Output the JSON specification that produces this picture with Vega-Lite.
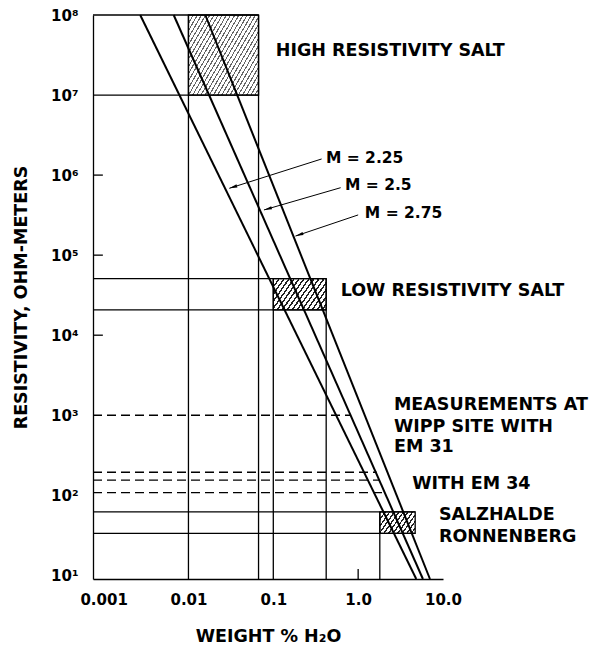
{
  "$schema": "https://vega.github.io/schema/vega-lite/v6.json",
  "width": 350,
  "height": 564,
  "autosize": {"type": "none"},
  "padding": {"left": 93, "top": 15, "right": 158, "bottom": 70},
  "background": "white",
  "config": {
    "view": {"stroke": null},
    "axis": {"grid": false, "ticks": false, "domainColor": "black", "domainWidth": 1.3, "labelColor": "black", "titleColor": "black", "labelFont": "DejaVu Sans", "labelFontWeight": "bold", "labelFontSize": 15, "titleFont": "DejaVu Sans", "titleFontWeight": "bold", "titleFontSize": 17.5}
  },
  "encoding": {
    "x": {"field": "x", "type": "quantitative", "scale": {"type": "log", "domain": [0.00075, 10], "nice": false},
      "axis": {"title": "WEIGHT % H₂O", "values": [0.001, 0.01, 0.1, 1, 10], "labelFlush": false, "labelOverlap": false, "labelPadding": 13, "titlePadding": 20,
        "labelExpr": "datum.value >= 1 ? format(datum.value, '.1f') : format(datum.value, '~g')"}},
    "y": {"field": "y", "type": "quantitative", "scale": {"type": "log", "domain": [9, 100000000], "nice": false},
      "axis": {"title": "RESISTIVITY, OHM-METERS", "values": [10, 100, 1000, 10000, 100000, 1000000, 10000000, 100000000], "labelFlush": false, "labelOverlap": false, "labelPadding": 15, "titlePadding": 20,
        "labelExpr": "'10' + ['⁰','¹','²','³','⁴','⁵','⁶','⁷','⁸'][round(log(datum.value)/LN10)]"}}
  },
  "layer": [
    {
      "data": {"values": [{"box": "high", "x": 0.01, "x2": 0.067, "y": 10000000, "y2": 100000000}]},
      "mark": {"type": "rect", "stroke": "black", "strokeWidth": 1.3,
        "fill": {"gradient": "linear", "x1": 0, "y1": 0, "x2": 1.156, "y2": 0.763, "stops": [
          {"offset": 0, "color": "#666"}, {"offset": 0.0107, "color": "#666"}, {"offset": 0.0107, "color": "#fff"}, {"offset": 0.0357, "color": "#fff"},
          {"offset": 0.0357, "color": "#666"}, {"offset": 0.0464, "color": "#666"}, {"offset": 0.0464, "color": "#fff"}, {"offset": 0.0714, "color": "#fff"},
          {"offset": 0.0714, "color": "#666"}, {"offset": 0.0821, "color": "#666"}, {"offset": 0.0821, "color": "#fff"}, {"offset": 0.1071, "color": "#fff"},
          {"offset": 0.1071, "color": "#666"}, {"offset": 0.1179, "color": "#666"}, {"offset": 0.1179, "color": "#fff"}, {"offset": 0.1429, "color": "#fff"},
          {"offset": 0.1429, "color": "#666"}, {"offset": 0.1536, "color": "#666"}, {"offset": 0.1536, "color": "#fff"}, {"offset": 0.1786, "color": "#fff"},
          {"offset": 0.1786, "color": "#666"}, {"offset": 0.1893, "color": "#666"}, {"offset": 0.1893, "color": "#fff"}, {"offset": 0.2143, "color": "#fff"},
          {"offset": 0.2143, "color": "#666"}, {"offset": 0.2250, "color": "#666"}, {"offset": 0.2250, "color": "#fff"}, {"offset": 0.2500, "color": "#fff"},
          {"offset": 0.2500, "color": "#666"}, {"offset": 0.2607, "color": "#666"}, {"offset": 0.2607, "color": "#fff"}, {"offset": 0.2857, "color": "#fff"},
          {"offset": 0.2857, "color": "#666"}, {"offset": 0.2964, "color": "#666"}, {"offset": 0.2964, "color": "#fff"}, {"offset": 0.3214, "color": "#fff"},
          {"offset": 0.3214, "color": "#666"}, {"offset": 0.3321, "color": "#666"}, {"offset": 0.3321, "color": "#fff"}, {"offset": 0.3571, "color": "#fff"},
          {"offset": 0.3571, "color": "#666"}, {"offset": 0.3679, "color": "#666"}, {"offset": 0.3679, "color": "#fff"}, {"offset": 0.3929, "color": "#fff"},
          {"offset": 0.3929, "color": "#666"}, {"offset": 0.4036, "color": "#666"}, {"offset": 0.4036, "color": "#fff"}, {"offset": 0.4286, "color": "#fff"},
          {"offset": 0.4286, "color": "#666"}, {"offset": 0.4393, "color": "#666"}, {"offset": 0.4393, "color": "#fff"}, {"offset": 0.4643, "color": "#fff"},
          {"offset": 0.4643, "color": "#666"}, {"offset": 0.4750, "color": "#666"}, {"offset": 0.4750, "color": "#fff"}, {"offset": 0.5000, "color": "#fff"},
          {"offset": 0.5000, "color": "#666"}, {"offset": 0.5107, "color": "#666"}, {"offset": 0.5107, "color": "#fff"}, {"offset": 0.5357, "color": "#fff"},
          {"offset": 0.5357, "color": "#666"}, {"offset": 0.5464, "color": "#666"}, {"offset": 0.5464, "color": "#fff"}, {"offset": 0.5714, "color": "#fff"},
          {"offset": 0.5714, "color": "#666"}, {"offset": 0.5821, "color": "#666"}, {"offset": 0.5821, "color": "#fff"}, {"offset": 0.6071, "color": "#fff"},
          {"offset": 0.6071, "color": "#666"}, {"offset": 0.6179, "color": "#666"}, {"offset": 0.6179, "color": "#fff"}, {"offset": 0.6429, "color": "#fff"},
          {"offset": 0.6429, "color": "#666"}, {"offset": 0.6536, "color": "#666"}, {"offset": 0.6536, "color": "#fff"}, {"offset": 0.6786, "color": "#fff"},
          {"offset": 0.6786, "color": "#666"}, {"offset": 0.6893, "color": "#666"}, {"offset": 0.6893, "color": "#fff"}, {"offset": 0.7143, "color": "#fff"},
          {"offset": 0.7143, "color": "#666"}, {"offset": 0.7250, "color": "#666"}, {"offset": 0.7250, "color": "#fff"}, {"offset": 0.7500, "color": "#fff"},
          {"offset": 0.7500, "color": "#666"}, {"offset": 0.7607, "color": "#666"}, {"offset": 0.7607, "color": "#fff"}, {"offset": 0.7857, "color": "#fff"},
          {"offset": 0.7857, "color": "#666"}, {"offset": 0.7964, "color": "#666"}, {"offset": 0.7964, "color": "#fff"}, {"offset": 0.8214, "color": "#fff"},
          {"offset": 0.8214, "color": "#666"}, {"offset": 0.8321, "color": "#666"}, {"offset": 0.8321, "color": "#fff"}, {"offset": 0.8571, "color": "#fff"},
          {"offset": 0.8571, "color": "#666"}, {"offset": 0.8679, "color": "#666"}, {"offset": 0.8679, "color": "#fff"}, {"offset": 0.8929, "color": "#fff"},
          {"offset": 0.8929, "color": "#666"}, {"offset": 0.9036, "color": "#666"}, {"offset": 0.9036, "color": "#fff"}, {"offset": 0.9286, "color": "#fff"},
          {"offset": 0.9286, "color": "#666"}, {"offset": 0.9393, "color": "#666"}, {"offset": 0.9393, "color": "#fff"}, {"offset": 0.9643, "color": "#fff"},
          {"offset": 0.9643, "color": "#666"}, {"offset": 0.9750, "color": "#666"}, {"offset": 0.9750, "color": "#fff"}, {"offset": 1, "color": "#fff"}
        ]}},
      "encoding": {"x2": {"field": "x2"}, "y2": {"field": "y2"}}
    },
    {
      "data": {"values": [{"box": "low", "x": 0.1, "x2": 0.42, "y": 20700, "y2": 51000}]},
      "mark": {"type": "rect", "stroke": "black", "strokeWidth": 1.3,
        "fill": {"gradient": "linear", "x1": 0, "y1": 0, "x2": 1.207, "y2": 0.499, "stops": [
          {"offset": 0, "color": "#222"}, {"offset": 0.0233, "color": "#222"}, {"offset": 0.0233, "color": "#fff"}, {"offset": 0.0667, "color": "#fff"},
          {"offset": 0.0667, "color": "#222"}, {"offset": 0.0900, "color": "#222"}, {"offset": 0.0900, "color": "#fff"}, {"offset": 0.1333, "color": "#fff"},
          {"offset": 0.1333, "color": "#222"}, {"offset": 0.1567, "color": "#222"}, {"offset": 0.1567, "color": "#fff"}, {"offset": 0.2000, "color": "#fff"},
          {"offset": 0.2000, "color": "#222"}, {"offset": 0.2233, "color": "#222"}, {"offset": 0.2233, "color": "#fff"}, {"offset": 0.2667, "color": "#fff"},
          {"offset": 0.2667, "color": "#222"}, {"offset": 0.2900, "color": "#222"}, {"offset": 0.2900, "color": "#fff"}, {"offset": 0.3333, "color": "#fff"},
          {"offset": 0.3333, "color": "#222"}, {"offset": 0.3567, "color": "#222"}, {"offset": 0.3567, "color": "#fff"}, {"offset": 0.4000, "color": "#fff"},
          {"offset": 0.4000, "color": "#222"}, {"offset": 0.4233, "color": "#222"}, {"offset": 0.4233, "color": "#fff"}, {"offset": 0.4667, "color": "#fff"},
          {"offset": 0.4667, "color": "#222"}, {"offset": 0.4900, "color": "#222"}, {"offset": 0.4900, "color": "#fff"}, {"offset": 0.5333, "color": "#fff"},
          {"offset": 0.5333, "color": "#222"}, {"offset": 0.5567, "color": "#222"}, {"offset": 0.5567, "color": "#fff"}, {"offset": 0.6000, "color": "#fff"},
          {"offset": 0.6000, "color": "#222"}, {"offset": 0.6233, "color": "#222"}, {"offset": 0.6233, "color": "#fff"}, {"offset": 0.6667, "color": "#fff"},
          {"offset": 0.6667, "color": "#222"}, {"offset": 0.6900, "color": "#222"}, {"offset": 0.6900, "color": "#fff"}, {"offset": 0.7333, "color": "#fff"},
          {"offset": 0.7333, "color": "#222"}, {"offset": 0.7567, "color": "#222"}, {"offset": 0.7567, "color": "#fff"}, {"offset": 0.8000, "color": "#fff"},
          {"offset": 0.8000, "color": "#222"}, {"offset": 0.8233, "color": "#222"}, {"offset": 0.8233, "color": "#fff"}, {"offset": 0.8667, "color": "#fff"},
          {"offset": 0.8667, "color": "#222"}, {"offset": 0.8900, "color": "#222"}, {"offset": 0.8900, "color": "#fff"}, {"offset": 0.9333, "color": "#fff"},
          {"offset": 0.9333, "color": "#222"}, {"offset": 0.9567, "color": "#222"}, {"offset": 0.9567, "color": "#fff"}, {"offset": 1, "color": "#fff"}
        ]}},
      "encoding": {"x2": {"field": "x2"}, "y2": {"field": "y2"}}
    },
    {
      "data": {"values": [{"box": "salzhalde", "x": 1.8, "x2": 4.7, "y": 33.5, "y2": 62}]},
      "mark": {"type": "rect", "stroke": "black", "strokeWidth": 1.3,
        "fill": {"gradient": "linear", "x1": 0, "y1": 0, "x2": 1.207, "y2": 0.512, "stops": [
          {"offset": 0, "color": "#222"}, {"offset": 0.0318, "color": "#222"}, {"offset": 0.0318, "color": "#fff"}, {"offset": 0.0909, "color": "#fff"},
          {"offset": 0.0909, "color": "#222"}, {"offset": 0.1227, "color": "#222"}, {"offset": 0.1227, "color": "#fff"}, {"offset": 0.1818, "color": "#fff"},
          {"offset": 0.1818, "color": "#222"}, {"offset": 0.2136, "color": "#222"}, {"offset": 0.2136, "color": "#fff"}, {"offset": 0.2727, "color": "#fff"},
          {"offset": 0.2727, "color": "#222"}, {"offset": 0.3045, "color": "#222"}, {"offset": 0.3045, "color": "#fff"}, {"offset": 0.3636, "color": "#fff"},
          {"offset": 0.3636, "color": "#222"}, {"offset": 0.3955, "color": "#222"}, {"offset": 0.3955, "color": "#fff"}, {"offset": 0.4545, "color": "#fff"},
          {"offset": 0.4545, "color": "#222"}, {"offset": 0.4864, "color": "#222"}, {"offset": 0.4864, "color": "#fff"}, {"offset": 0.5455, "color": "#fff"},
          {"offset": 0.5455, "color": "#222"}, {"offset": 0.5773, "color": "#222"}, {"offset": 0.5773, "color": "#fff"}, {"offset": 0.6364, "color": "#fff"},
          {"offset": 0.6364, "color": "#222"}, {"offset": 0.6682, "color": "#222"}, {"offset": 0.6682, "color": "#fff"}, {"offset": 0.7273, "color": "#fff"},
          {"offset": 0.7273, "color": "#222"}, {"offset": 0.7591, "color": "#222"}, {"offset": 0.7591, "color": "#fff"}, {"offset": 0.8182, "color": "#fff"},
          {"offset": 0.8182, "color": "#222"}, {"offset": 0.8500, "color": "#222"}, {"offset": 0.8500, "color": "#fff"}, {"offset": 0.9091, "color": "#fff"},
          {"offset": 0.9091, "color": "#222"}, {"offset": 0.9409, "color": "#222"}, {"offset": 0.9409, "color": "#fff"}, {"offset": 1, "color": "#fff"}
        ]}},
      "encoding": {"x2": {"field": "x2"}, "y2": {"field": "y2"}}
    },
    {
      "data": {"values": [
        {"x": 0.00075, "x2": 0.067, "y": 100000000},
        {"x": 0.00075, "x2": 0.067, "y": 10000000},
        {"x": 0.00075, "x2": 0.42, "y": 51000},
        {"x": 0.00075, "x2": 0.42, "y": 20700},
        {"x": 0.00075, "x2": 4.7, "y": 62},
        {"x": 0.00075, "x2": 4.7, "y": 33.5}
      ]},
      "mark": {"type": "rule", "color": "black", "strokeWidth": 1.3},
      "encoding": {"x2": {"field": "x2"}}
    },
    {
      "data": {"values": [
        {"x": 0.01, "y": 9, "y2": 100000000},
        {"x": 0.067, "y": 9, "y2": 100000000},
        {"x": 0.1, "y": 9, "y2": 51000},
        {"x": 0.42, "y": 9, "y2": 51000},
        {"x": 1.8, "y": 9, "y2": 62}
      ]},
      "mark": {"type": "rule", "color": "black", "strokeWidth": 1.3},
      "encoding": {"y2": {"field": "y2"}}
    },
    {
      "data": {"values": [
        {"x": 0.00075, "x2": 0.00098, "y": 10000, "y2": 10000},
        {"x": 0.00075, "x2": 0.00098, "y": 100000, "y2": 100000},
        {"x": 0.00075, "x2": 0.00098, "y": 1000000, "y2": 1000000},
        {"x": 1, "x2": 1, "y": 9, "y2": 12}
      ]},
      "mark": {"type": "rule", "color": "black", "strokeWidth": 1.3},
      "encoding": {"x2": {"field": "x2"}, "y2": {"field": "y2"}}
    },
    {
      "data": {"values": [
        {"x": 0.00075, "x2": 0.82, "y": 1000},
        {"x": 0.00075, "x2": 1.65, "y": 194},
        {"x": 0.00075, "x2": 1.78, "y": 155},
        {"x": 0.00075, "x2": 2.08, "y": 108}
      ]},
      "mark": {"type": "rule", "color": "black", "strokeWidth": 1.3, "strokeDash": [9, 5]},
      "encoding": {"x2": {"field": "x2"}}
    },
    {
      "data": {"values": [
        {"m": "2.25", "x": 0.0027, "y": 100000000},
        {"m": "2.25", "x": 4.84, "y": 9},
        {"m": "2.5", "x": 0.0067, "y": 100000000},
        {"m": "2.5", "x": 5.8, "y": 9},
        {"m": "2.75", "x": 0.0158, "y": 100000000},
        {"m": "2.75", "x": 7.02, "y": 9}
      ]},
      "mark": {"type": "line", "color": "black", "strokeWidth": 2},
      "encoding": {"detail": {"field": "m", "type": "nominal"}}
    },
    {
      "data": {"values": [
        {"m": "2.25", "x": 0.371, "y": 1590000, "x2": 0.0303, "y2": 684000},
        {"m": "2.5", "x": 0.622, "y": 696000, "x2": 0.0776, "y2": 367000},
        {"m": "2.75", "x": 1.0, "y": 318000, "x2": 0.1824, "y2": 173000}
      ]},
      "mark": {"type": "rule", "color": "black", "strokeWidth": 1},
      "encoding": {"x2": {"field": "x2"}, "y2": {"field": "y2"}}
    },
    {
      "data": {"values": [{"m": "2.25", "x": 0.0303, "y": 684000}]},
      "mark": {"type": "point", "shape": "M0,0L0.4,2L-0.4,2Z", "size": 64, "filled": true, "color": "black", "opacity": 1, "angle": 252.4}
    },
    {
      "data": {"values": [{"m": "2.5", "x": 0.0776, "y": 367000}]},
      "mark": {"type": "point", "shape": "M0,0L0.4,2L-0.4,2Z", "size": 64, "filled": true, "color": "black", "opacity": 1, "angle": 253.8}
    },
    {
      "data": {"values": [{"m": "2.75", "x": 0.1824, "y": 173000}]},
      "mark": {"type": "point", "shape": "M0,0L0.4,2L-0.4,2Z", "size": 64, "filled": true, "color": "black", "opacity": 1, "angle": 251.5}
    },
    {
      "data": {"values": [
        {"label": "HIGH RESISTIVITY SALT", "x": 0.107, "y": 35300000},
        {"label": "LOW RESISTIVITY SALT", "x": 0.622, "y": 36100},
        {"label": "MEASUREMENTS AT", "x": 2.64, "y": 1325},
        {"label": "WIPP SITE WITH", "x": 2.64, "y": 720},
        {"label": "EM 31", "x": 2.64, "y": 401},
        {"label": "WITH EM 34", "x": 4.34, "y": 138},
        {"label": "SALZHALDE", "x": 8.96, "y": 57},
        {"label": "RONNENBERG", "x": 8.96, "y": 30.4}
      ]},
      "mark": {"type": "text", "align": "left", "baseline": "middle", "font": "DejaVu Sans", "fontWeight": "bold", "fontSize": 17.5, "color": "black"},
      "encoding": {"text": {"field": "label"}}
    },
    {
      "data": {"values": [
        {"label": "M = 2.25", "x": 0.417, "y": 1620000},
        {"label": "M = 2.5", "x": 0.699, "y": 752000},
        {"label": "M = 2.75", "x": 1.2, "y": 334000}
      ]},
      "mark": {"type": "text", "align": "left", "baseline": "middle", "font": "DejaVu Sans", "fontWeight": "bold", "fontSize": 15.5, "color": "black"},
      "encoding": {"text": {"field": "label"}}
    }
  ]
}
